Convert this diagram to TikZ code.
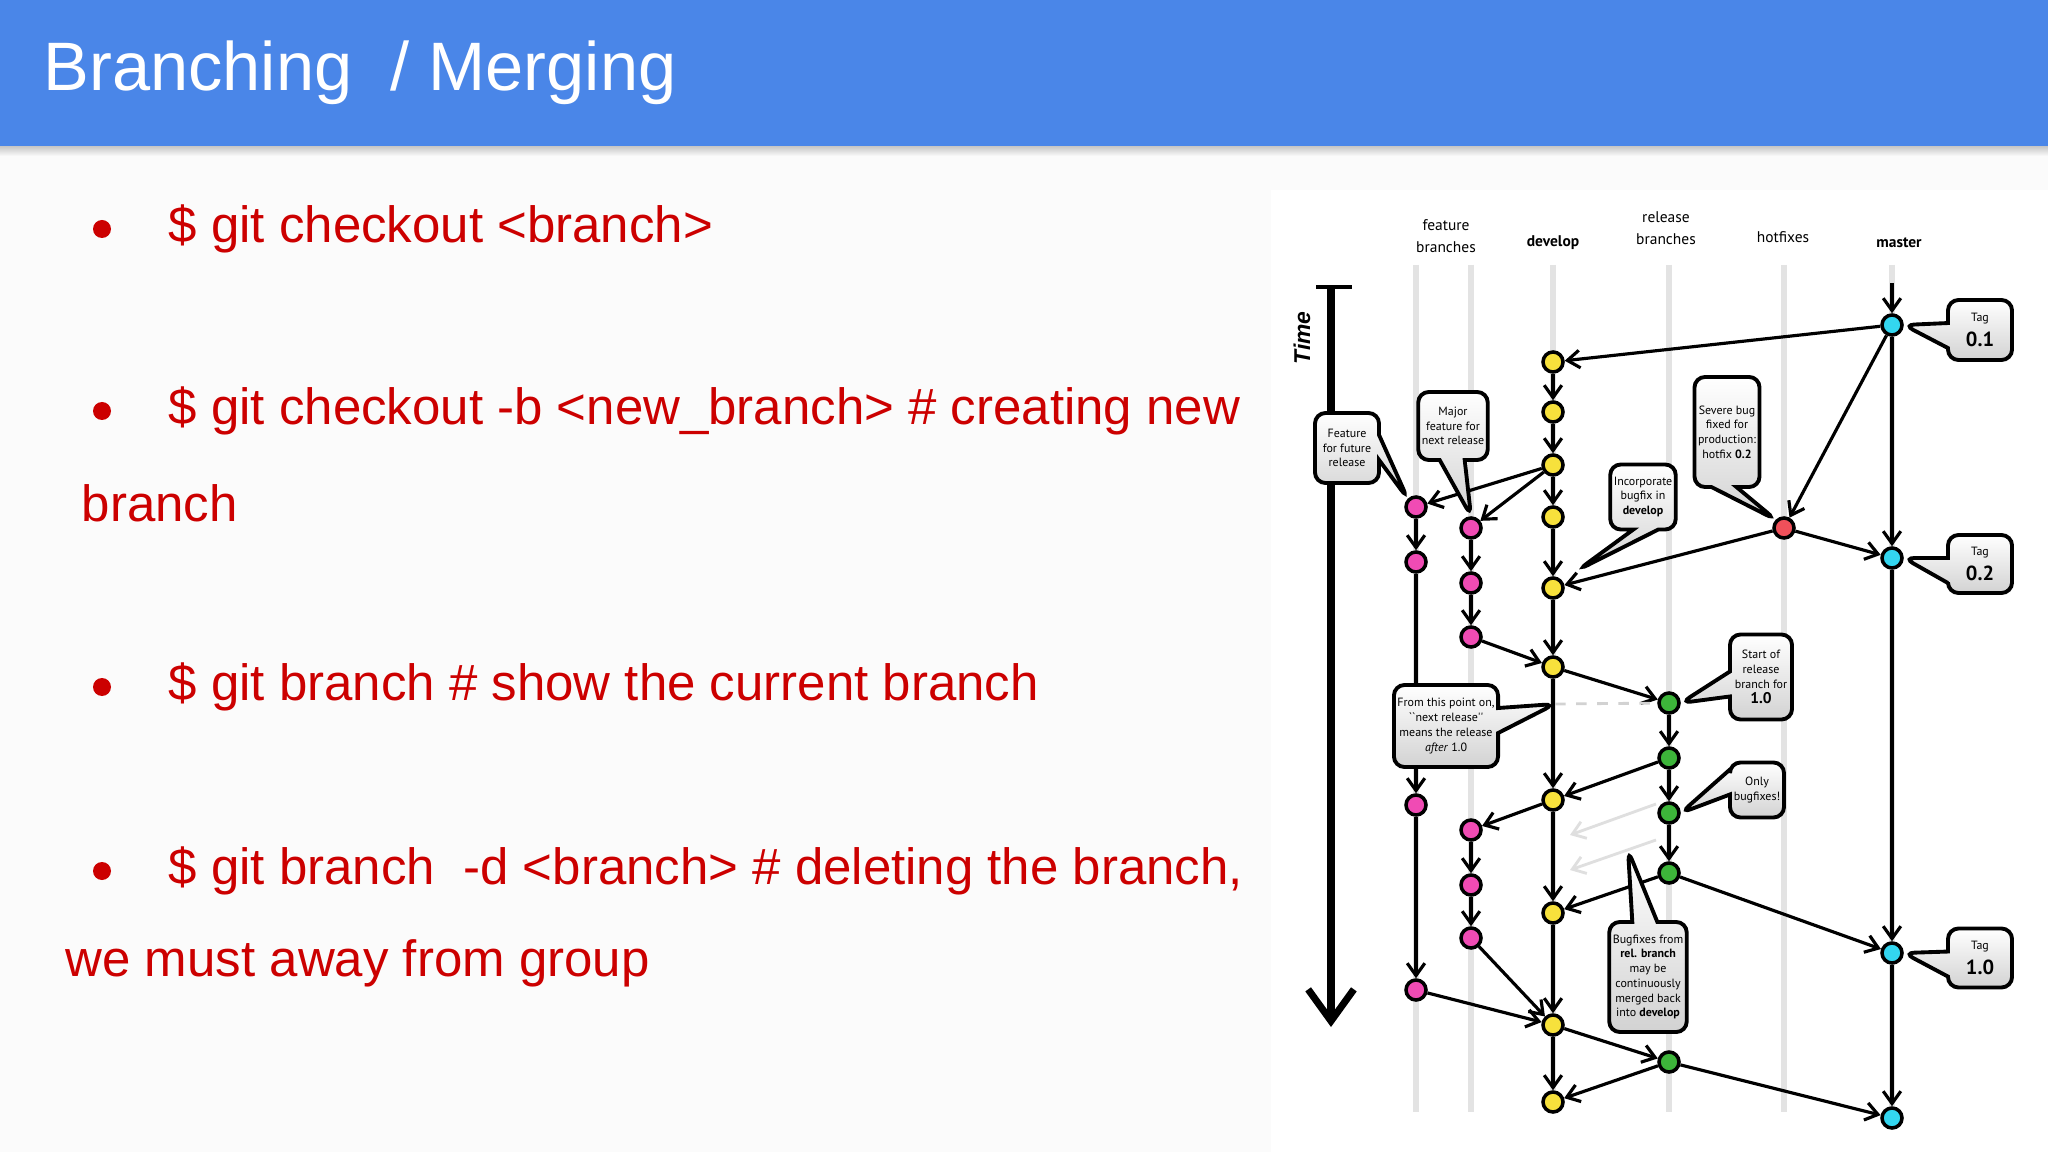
\documentclass[tikz,border=0pt]{standalone}
\usepackage{fontspec}
\setmainfont{Liberation Sans}
\newfontfamily\diagfont{PT Sans}
\usetikzlibrary{arrows.meta,shapes.callouts,positioning}
\definecolor{hdrblue}{HTML}{4A86E8}
\definecolor{bulred}{HTML}{CC0000}
\definecolor{devyel}{HTML}{F7E13C}
\definecolor{featpink}{HTML}{F04BB4}
\definecolor{relgreen}{HTML}{3DB53A}
\definecolor{hotred}{HTML}{F0505A}
\definecolor{mastcyan}{HTML}{33D6F0}
\pgfdeclarelayer{bg}
\pgfdeclarelayer{edges}
\pgfsetlayers{bg,edges,main}
\tikzset{
  commit/.style={circle,draw=black,line width=1pt,minimum width=0.17cm,minimum height=0.2cm,inner sep=0pt,fill=#1},
  flow/.style={-{Straight Barb[length=3.5pt,width=5pt]},line width=0.9pt},
  faint/.style={-{Straight Barb[length=3.5pt,width=5pt]},line width=0.8pt,gray!25},
  lane/.style={gray!22,line width=1.6pt},
  note/.style={rectangle callout,rounded corners=3pt,draw=black,line width=1.1pt,top color=white,bottom color=gray!35,align=center,inner sep=1pt,font=\diagfont\fontsize{3.4}{4.2}\selectfont},
  head/.style={align=center,font=\diagfont\fontsize{4.4}{6.2}\selectfont},
  bullet/.style={anchor=west,text=bulred,font=\fontsize{14.5}{17}\selectfont,inner sep=0pt},
}
\newcommand{\tagtext}[1]{Tag\\[1pt]{\fontsize{5.8}{6.5}\selectfont\bfseries #1}}
\begin{document}
\begin{tikzpicture}[x=0.01cm,y=-0.01cm]
\useasboundingbox (0,0) rectangle (2048,1152);
% page and header
\begin{pgfonlayer}{bg}
\fill[gray!3] (0,0) rectangle (2048,1152);
\fill[white] (1271,190) rectangle (2048,1152);
\shade[top color=gray!45,bottom color=gray!3] (0,146) rectangle (2048,156);
\fill[hdrblue] (0,0) rectangle (2048,146);
\end{pgfonlayer}
\node[anchor=west,text=white,font=\fontsize{19.5}{22}\selectfont,inner sep=0pt] (title) at (43,73) {Branching\ \ / Merging};
% bullets
\foreach \yy in {229,411,687,871}
  \fill[bulred] (102,\yy) circle (9);
\node[bullet] (b1) at (168,229) {\$ git checkout <branch>};
\node[bullet] (b2) at (168,411) {\$ git checkout -b <new\_branch> \# creating new};
\node[bullet] (b2a) at (81,503) {branch};
\node[bullet] (b3) at (168,687) {\$ git branch \# show the current branch};
\node[bullet] (b4) at (168,871) {\$ git branch\ \ -d <branch> \# deleting the branch,};
\node[bullet] (b4a) at (65,963) {we must away from group};
% column heads
\node[head] (hFeat) at (1446,236) {feature\\branches};
\node[head,font=\diagfont\bfseries\fontsize{4.4}{6}\selectfont] (hDev) at (1553,243) {develop};
\node[head] (hRel) at (1666,228) {release\\branches};
\node[head] (hHot) at (1783,237) {hotfixes};
\node[head,font=\diagfont\bfseries\fontsize{4.4}{6}\selectfont] (hMast) at (1899,243) {master};
% lanes
\begin{pgfonlayer}{bg}
\foreach \xx in {1416,1471,1553,1669,1784,1892}
  \draw[lane] (\xx,265) -- (\xx,1112);
\end{pgfonlayer}
% time axis
\draw[line width=1.2pt] (1316,287) -- (1352,287);
\coordinate (tTop) at (1331,287);
\coordinate (tBot) at (1331,1027);
\draw[line width=2pt,-{Straight Barb[length=9pt,width=13pt]}] (tTop) -- (tBot);
\node[rotate=90,font=\bfseries\itshape\fontsize{6.5}{7}\selectfont] (tLabel) at (1302,338) {Time};
% commits
\node[commit=mastcyan] (m1) at (1892,325) {};
\node[commit=mastcyan] (m2) at (1892,558) {};
\node[commit=mastcyan] (m3) at (1892,953) {};
\node[commit=mastcyan] (m4) at (1892,1118) {};
\node[commit=hotred] (h1) at (1784,528) {};
\foreach \n/\yy in {1/362,2/412,3/465,4/517,5/588,6/667,7/800,8/913,9/1025,10/1102}
  \node[commit=devyel] (d\n) at (1553,\yy) {};
\foreach \n/\yy in {1/507,2/562,3/805,4/990}
  \node[commit=featpink] (f\n) at (1416,\yy) {};
\foreach \n/\yy in {1/528,2/583,3/637,4/830,5/885,6/938}
  \node[commit=featpink] (g\n) at (1471,\yy) {};
\foreach \n/\yy in {1/703,2/758,3/813,4/873,5/1062}
  \node[commit=relgreen] (r\n) at (1669,\yy) {};
\coordinate (mTop) at (1892,283);
\coordinate (dDash) at (1555,704);
% callouts
\node[note,minimum width=0.64cm,minimum height=0.7cm,callout absolute pointer={(f1.north west)}] (nFuture) at (1347,448) {Feature\\for future\\release};
\node[note,minimum width=0.62cm,minimum height=0.68cm,callout absolute pointer={(g1.north)}] (nMajor) at (1453,426) {Major\\feature for\\next release};
\node[note,minimum width=0.64cm,minimum height=0.65cm,callout absolute pointer={(1578,570)}] (nIncorp) at (1643,497) {Incorporate\\bugfix in\\\textbf{develop}};
\node[note,minimum width=0.6cm,minimum height=1.1cm,callout absolute pointer={(h1.north west)}] (nSevere) at (1727,432) {Severe bug\\fixed for\\production:\\hotfix \textbf{0.2}};
\node[note,minimum width=0.64cm,minimum height=0.6cm,callout absolute pointer={(m1.east)}] (nTag1) at (1980,330) {\tagtext{0.1}};
\node[note,minimum width=0.64cm,minimum height=0.58cm,callout absolute pointer={(m2.east)}] (nTag2) at (1980,564) {\tagtext{0.2}};
\node[note,minimum width=0.62cm,minimum height=0.85cm,callout absolute pointer={(r1.east)}] (nStart) at (1761,677) {Start of\\release\\branch for\\{\fontsize{4.4}{5}\selectfont\bfseries 1.0}};
\node[note,minimum width=0.85cm,minimum height=0.82cm,callout absolute pointer={(dDash)}] (nPoint) at (1446,726) {From this point on,\\``next release''\\means the release\\\textit{after} 1.0};
\node[note,minimum width=0.54cm,minimum height=0.55cm,callout absolute pointer={(r3.east)}] (nOnly) at (1757,790) {Only\\bugfixes!};
\node[note,minimum width=0.64cm,minimum height=0.59cm,callout absolute pointer={(m3.east)}] (nTag3) at (1980,958) {\tagtext{1.0}};
\node[note,minimum width=0.71cm,minimum height=1.1cm,callout absolute pointer={(1628,850)}] (nBugfix) at (1648,977) {Bugfixes from\\\textbf{rel. branch}\\may be\\continuously\\merged back\\into \textbf{develop}};
% connectors
\begin{pgfonlayer}{edges}
\draw[flow] (mTop) -- (m1);
\foreach \a/\b in {m1/d1,m1/h1,m1/m2,h1/m2,h1/d5,d3/f1,d3/g1,f1/f2,g1/g2,g2/g3,g3/d6,d6/r1,r1/r2,r2/r3,r3/r4,r2/d7,d7/g4,g4/g5,g5/g6,g6/d9,f2/f3,f3/f4,f4/d9,r4/d8,r4/m3,m2/m3,m3/m4,d9/r5,r5/d10,r5/m4}
  \draw[flow] (\a) -- (\b);
\foreach \n [count=\m from 2] in {1,...,9}
  \draw[flow] (d\n) -- (d\m);
\draw[dashed,gray!35,line width=0.8pt] (dDash) -- (r1);
\coordinate (fa1) at (1656,804);
\coordinate (fa2) at (1570,835);
\coordinate (fb1) at (1656,840);
\coordinate (fb2) at (1570,870);
\draw[faint] (fa1) -- (fa2);
\draw[faint] (fb1) -- (fb2);
\end{pgfonlayer}
\end{tikzpicture}
\end{document}
